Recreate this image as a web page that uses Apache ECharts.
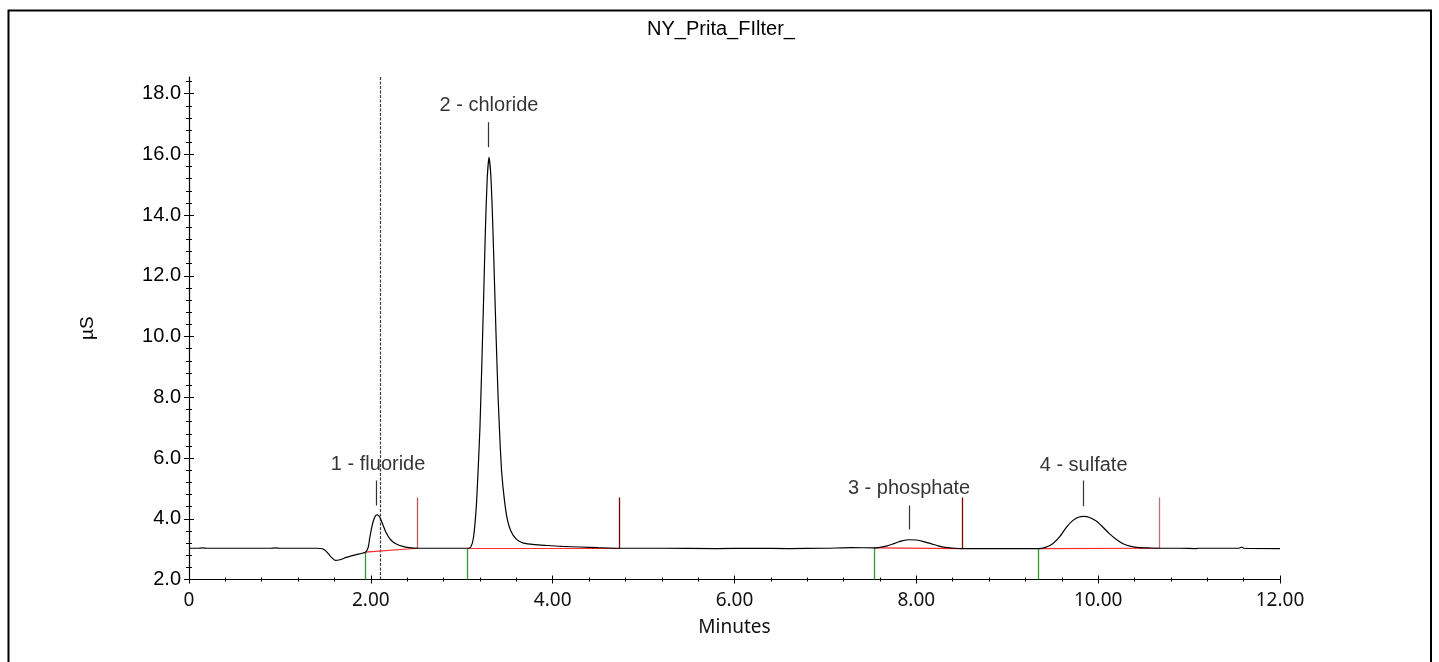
<!DOCTYPE html>
<html><head><meta charset="utf-8">
<script src="https://cdn.jsdelivr.net/npm/echarts@6/dist/echarts.min.js"></script>
<style>html,body{margin:0;padding:0;background:#fff}#c{width:1439px;height:662px}</style>
</head><body><div id="c"></div><script>
// ---- data ----
const chartTitle = 'NY_Prita_FIlter_';
const xMajorTicks = [0, 2, 4, 6, 8, 10, 12];
const yMajorTicks = [2, 4, 6, 8, 10, 12, 14, 16, 18];

const traceLead = [[0.00,3.03],[0.10,3.03],[0.15,3.04],[0.20,3.03],[0.50,3.03],[0.90,3.03],[0.95,3.04],[1.00,3.03],[1.40,3.03],[1.45,3.02]];
const traceDip = [[1.49,2.98],[1.53,2.86],[1.57,2.72],[1.61,2.63],[1.66,2.65],[1.73,2.73],[1.84,2.82],[1.94,2.90]];
const traceFluoride = [[1.97,3.05],[1.99,3.40],[2.01,3.72],[2.03,3.95],[2.055,4.11],[2.075,4.13],[2.10,4.04],[2.13,3.82],[2.17,3.53],[2.22,3.30],[2.28,3.17],[2.35,3.09],[2.42,3.05],[2.51,3.03],[2.70,3.03],[2.90,3.03],[3.065,3.03]];
const traceChloride = [[3.10,3.07],[3.13,3.40],[3.16,4.40],[3.18,5.60],[3.20,7.00],[3.22,9.00],[3.24,11.20],[3.26,13.50],[3.28,15.20],[3.30,15.90],[3.32,15.30],[3.34,13.80],[3.36,11.80],[3.38,9.80],[3.40,8.00],[3.42,6.60],[3.44,5.50],[3.47,4.60],[3.50,4.00],[3.54,3.60],[3.60,3.33],[3.68,3.20],[3.80,3.15],[3.95,3.12],[4.10,3.09],[4.30,3.07],[4.50,3.05],[4.73,3.03]];
const traceMiddle = [[5.20,3.03],[5.80,3.02],[6.20,3.03],[6.60,3.02],[7.00,3.03],[7.30,3.05],[7.534,3.04]];
const tracePhosphate = [[7.60,3.06],[7.68,3.11],[7.76,3.19],[7.84,3.27],[7.92,3.31],[8.00,3.30],[8.08,3.25],[8.16,3.18],[8.24,3.11],[8.32,3.06],[8.42,3.03],[8.51,3.02],[8.80,3.02],[9.10,3.02],[9.341,3.02]];
const traceSulfate = [[9.42,3.06],[9.50,3.18],[9.58,3.42],[9.65,3.72],[9.72,3.94],[9.79,4.06],[9.844,4.08],[9.90,4.05],[9.97,3.94],[10.04,3.76],[10.12,3.52],[10.20,3.32],[10.28,3.17],[10.36,3.09],[10.45,3.05],[10.55,3.04],[10.669,3.03]];
const traceTail = [[10.90,3.03],[11.08,3.02],[11.10,3.03],[11.55,3.03],[11.58,3.07],[11.60,3.03],[12.00,3.02]];

const peakNames = ['1 - fluoride', '2 - chloride', '3 - phosphate', '4 - sulfate'];
const peakLabelTimes = [2.08, 3.30, 7.92, 9.84];
const peakLabelValues = [5.79, 17.61, 4.99, 5.75];
const peakTickTimes = [2.065, 3.296, 7.925, 9.84];
const peakTickLow = [4.44, 16.24, 3.65, 4.41];
const peakTickHigh = [5.26, 17.06, 4.44, 5.26];

const peakStartTimes = [1.943, 3.065, 7.534, 9.341];
const peakStartValues = [2.90, 3.03, 3.04, 3.02];
const peakEndTimes = [2.515, 4.733, 8.51, 10.669];
const peakEndValues = [3.03, 3.03, 3.02, 3.03];
const endMarkerTop = 4.70;
const endMarkerColors = ['#b35a5a', '#7a0000', '#850000', '#b37373'];

const injectionTime = 2.10;
const yMin = 2, yMax = 18.55, xMin = 0, xMax = 12;

// ---- build ----
const trace = [].concat(traceLead, traceDip, traceFluoride, traceChloride, traceMiddle, tracePhosphate, traceSulfate, traceTail);
const xMinorTicks = []; for (let i = 0; i <= 30; i++) xMinorTicks.push(+(i * 0.4).toFixed(1));
const yMinorTicks = []; for (let i = 0; i <= 41; i++) yMinorTicks.push(+(2 + i * 0.4).toFixed(1));

const AR = '"Liberation Sans", Arial, sans-serif';
const NS = '"Noto Sans", "Open Sans", sans-serif';

function xAx(ticks, inside, len, main) {
  return {
    type: 'value', min: xMin, max: xMax, position: 'bottom', gridIndex: 0,
    axisLine: { show: !!main, onZero: false, lineStyle: { color: '#000', width: 1.2 } },
    axisTick: { show: true, inside: inside, length: len, customValues: ticks, lineStyle: { color: '#000', width: 1 } },
    axisLabel: main ? { show: true, customValues: xMajorTicks, margin: 12, color: '#111', fontFamily: NS, fontSize: 19,
      formatter: v => v === 0 ? '0' : v.toFixed(2) } : { show: false },
    splitLine: { show: false },
    name: main ? 'Minutes' : '', nameLocation: 'middle', nameGap: 39,
    nameTextStyle: { fontFamily: NS, fontSize: 19, color: '#111' }
  };
}
function yAx(ticks, inside, len, main) {
  return {
    type: 'value', min: yMin, max: yMax, position: 'left', gridIndex: 0,
    axisLine: { show: !!main, onZero: false, lineStyle: { color: '#000', width: 1.2 } },
    axisTick: { show: true, inside: inside, length: len, customValues: ticks, lineStyle: { color: '#000', width: 1 } },
    axisLabel: main ? { show: true, customValues: yMajorTicks, margin: 8, color: '#000', fontFamily: AR, fontSize: 20,
      formatter: v => v.toFixed(1) } : { show: false },
    splitLine: { show: false },
    name: main ? 'µS' : '', nameLocation: 'middle', nameGap: 92,
    nameTextStyle: { fontFamily: AR, fontSize: 19, color: '#000' }
  };
}

const baselineLines = peakStartTimes.map((t, i) => ({ coords: [[t, peakStartValues[i]], [peakEndTimes[i], peakEndValues[i]]] }));
const startMarkers = peakStartTimes.map((t, i) => ({ coords: [[t, yMin], [t, peakStartValues[i]]] }));
const endMarkers = peakEndTimes.map((t, i) => ({ coords: [[t, peakEndValues[i]], [t, endMarkerTop]], lineStyle: { color: endMarkerColors[i] } }));
const labelTicks = peakTickTimes.map((t, i) => ({ coords: [[t, peakTickLow[i]], [t, peakTickHigh[i]]] }));

const chart = echarts.init(document.getElementById('c'), null, { renderer: 'canvas' });
chart.setOption({
  animation: false,
  backgroundColor: '#fff',
  graphic: [
    { type: 'rect', shape: { x: 8.5, y: 10.5, width: 1422.5, height: 700 }, style: { fill: 'none', stroke: '#000', lineWidth: 2 }, z: 0 },
    { type: 'text', x: 721, y: 29, style: { text: chartTitle, textAlign: 'center', textVerticalAlign: 'middle', font: '20px "Liberation Sans", Arial, sans-serif', fill: '#000' }, z: 10 }
  ],
  grid: { left: 189, right: 159, top: 77, bottom: 82.5 },
  xAxis: [ xAx(xMajorTicks, false, 4, true), xAx(xMajorTicks, true, 4, false), xAx(xMinorTicks, false, 2, false), xAx(xMinorTicks, true, 2, false) ],
  yAxis: [ yAx(yMajorTicks, false, 5, true), yAx(yMajorTicks, true, 5, false), yAx(yMinorTicks, false, 3, false), yAx(yMinorTicks, true, 3, false) ],
  series: [
    { type: 'lines', coordinateSystem: 'cartesian2d', xAxisIndex: 0, yAxisIndex: 0, data: [{ coords: [[injectionTime, yMin], [injectionTime, yMax]] }],
      lineStyle: { color: '#3a3a3a', width: 1.2, type: [3, 1.5], opacity: 1 }, z: 1 },
    { type: 'lines', coordinateSystem: 'cartesian2d', xAxisIndex: 0, yAxisIndex: 0, data: baselineLines,
      lineStyle: { color: '#ff2a2a', width: 1.2, opacity: 1 }, z: 2 },
    { type: 'lines', coordinateSystem: 'cartesian2d', xAxisIndex: 0, yAxisIndex: 0, data: startMarkers,
      lineStyle: { color: '#2f9a2f', width: 1.3, opacity: 1 }, z: 2 },
    { type: 'lines', coordinateSystem: 'cartesian2d', xAxisIndex: 0, yAxisIndex: 0, data: endMarkers,
      lineStyle: { width: 1.3, opacity: 1 }, z: 2 },
    { type: 'line', xAxisIndex: 0, yAxisIndex: 0, data: trace, showSymbol: false, symbol: 'none', smooth: 0.2,
      lineStyle: { color: '#000', width: 1.2 }, z: 3 },
    { type: 'lines', coordinateSystem: 'cartesian2d', xAxisIndex: 0, yAxisIndex: 0, data: labelTicks,
      lineStyle: { color: '#333', width: 1.2, opacity: 1 }, z: 3 },
    { type: 'scatter', xAxisIndex: 0, yAxisIndex: 0, symbolSize: 0, silent: true,
      data: peakNames.map((n, i) => ({ name: n, value: [peakLabelTimes[i], peakLabelValues[i]] })),
      label: { show: true, position: 'inside', formatter: p => p.name, color: '#000', textBorderWidth: 0, fontFamily: AR, fontSize: 20 }, z: 4 }
  ]
});
</script></body></html>
